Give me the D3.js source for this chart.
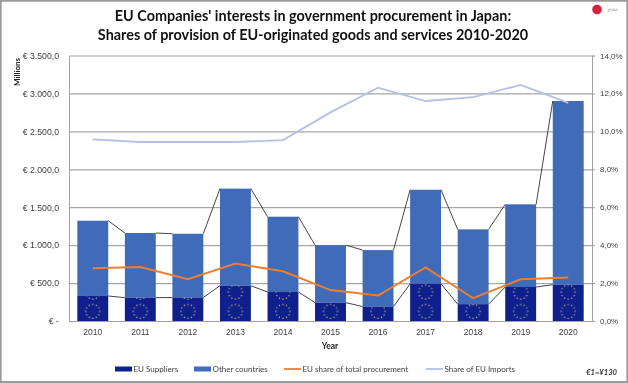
<!DOCTYPE html>
<html>
<head>
<meta charset="utf-8">
<script src="https://cdn.jsdelivr.net/npm/d3@7"></script>
<style>
    html, body { margin: 0; padding: 0; background: #fff; }
    svg { display: block; font-family: Lato, sans-serif; color: #333; filter: blur(0.35px); }
    .axis text { font-size: 8.5px; fill: #404040; }
    .axis path, .axis line { stroke: #a0a0a0; }
    .axis.left text { font-size: 8.7px; }
    .axis.right text { font-size: 8px; }
    .grid line { stroke: #a6a6a6; stroke-width: 1.2; }
    .grid path { display: none; }
</style>
</head>
<body>
<div id="chart"></div>
<script>
const years = ['2010', '2011', '2012', '2013', '2014', '2015', '2016', '2017', '2018', '2019', '2020'];
const euSuppliers = [330, 307, 310, 465, 382, 242, 190, 490, 222, 448, 478];
const otherCountries = [992, 853, 840, 1280, 993, 758, 745, 1240, 986, 1090, 2422];
const euShare = [2.78, 2.85, 2.2, 3.03, 2.62, 1.63, 1.34, 2.83, 1.2, 2.2, 2.29];
const euImports = [9.58, 9.44, 9.44, 9.44, 9.54, 11.0, 12.3, 11.6, 11.8, 12.45, 11.5];
const euroTicks = [0, 500, 1000, 1500, 2000, 2500, 3000, 3500];
const shareTicks = [0, 2, 4, 6, 8, 10, 12, 14];
const titleLines = ["EU Companies' interests in government procurement in Japan:", 'Shares of provision of EU-originated goods and services 2010-2020'];

const width = 628;
const height = 383;
const margin = { top: 55.5, right: 36, bottom: 62, left: 69 };
const w = width - margin.left - margin.right;
const h = height - margin.top - margin.bottom;

const colors = { eu: '#0f1f8c', other: '#3f6bb8', share: '#ed7d31', imports: '#b4c0e4', link: '#444' };

const svg = d3.select('#chart')
    .append('svg')
    .attr('width', width)
    .attr('height', height);

// screenshot frame
svg.append('path')
    .attr('d', `M0.75,${height - 1}V0.75H${width - 0.75}V${height - 1}Z`)
    .attr('fill', 'none')
    .attr('stroke', '#9a9a9a')
    .attr('stroke-width', 1.8);

const g = svg.append('g')
    .attr('transform', `translate(${margin.left}, ${margin.top})`);

const xScale = d3.scaleBand()
    .domain(years)
    .range([0, w])
    .paddingInner(0.35)
    .paddingOuter(0.175);
const yScale = d3.scaleLinear().domain([0, 3500]).range([h, 0]);
const shareScale = d3.scaleLinear().domain([0, 14]).range([h, 0]);
const cx = (d) => xScale(d) + xScale.bandwidth() / 2;

// flag pattern, one ring of stars per tile (coordinates of the plot group)
const tileH = yScale(0) - yScale(254);
const defs = svg.append('defs');
const pattern = defs.append('pattern')
    .attr('id', 'flag')
    .attr('patternUnits', 'userSpaceOnUse')
    .attr('width', xScale.step())
    .attr('height', tileH)
    .attr('x', cx(years[0]) - xScale.step() / 2)
    .attr('y', h - tileH);
pattern.append('rect')
    .attr('width', xScale.step())
    .attr('height', tileH)
    .attr('fill', colors.eu);
pattern.selectAll('circle')
    .data(d3.range(12))
    .enter()
    .append('circle')
    .attr('cx', (d) => xScale.step() / 2 + 7 * Math.cos(d * Math.PI / 6))
    .attr('cy', (d) => tileH / 2 + 7 * Math.sin(d * Math.PI / 6))
    .attr('r', 0.65)
    .attr('fill', '#d8d28c');

// gridlines
g.append('g')
    .attr('class', 'grid')
    .call(d3.axisLeft(yScale).tickValues(euroTicks).tickSize(-w).tickFormat(''));

// axes
const locale = d3.formatLocale({ decimal: ',', thousands: '.', grouping: [3], currency: ['€ ', ''] });
const euroFormat = locale.format('$,.1f');
const leftAxis = d3.axisLeft(yScale)
    .tickValues(euroTicks)
    .tickSize(0)
    .tickPadding(10)
    .tickFormat((d) => d === 0 ? '€ -' : euroFormat(d));
g.append('g').attr('class', 'axis left').call(leftAxis);

const rightAxis = d3.axisRight(shareScale)
    .tickValues(shareTicks)
    .tickSize(3)
    .tickPadding(5)
    .tickFormat((d) => d.toFixed(1).replace('.', ',') + '%');
g.append('g')
    .attr('class', 'axis right')
    .attr('transform', `translate(${w}, 0)`)
    .call(rightAxis);

const bottomAxis = d3.axisBottom(xScale).tickSize(0).tickPadding(8);
g.append('g')
    .attr('class', 'axis')
    .attr('transform', `translate(0, ${h})`)
    .call(bottomAxis);

// stacked bars
const stacked = d3.stack().keys(['eu', 'other'])(years.map((d, i) => {
    return { year: d, eu: euSuppliers[i], other: otherCountries[i] };
}));

g.selectAll('.bar-other')
    .data(stacked[1])
    .enter()
    .append('rect')
    .attr('class', 'bar-other')
    .attr('x', (d) => xScale(d.data.year))
    .attr('width', xScale.bandwidth())
    .attr('y', (d) => yScale(d[1]))
    .attr('height', (d) => yScale(d[0]) - yScale(d[1]))
    .attr('fill', colors.other);

g.selectAll('.bar-eu')
    .data(stacked[0])
    .enter()
    .append('rect')
    .attr('class', 'bar-eu')
    .attr('x', (d) => xScale(d.data.year))
    .attr('width', xScale.bandwidth())
    .attr('y', (d) => yScale(d[1]))
    .attr('height', (d) => yScale(d[0]) - yScale(d[1]))
    .attr('fill', 'url(#flag)');

// series lines between the bars
stacked.forEach((layer) => {
    g.append('g')
        .selectAll('line')
        .data(layer.slice(1))
        .enter()
        .append('line')
        .attr('x1', (d, i) => xScale(layer[i].data.year) + xScale.bandwidth())
        .attr('y1', (d, i) => yScale(layer[i][1]))
        .attr('x2', (d) => xScale(d.data.year))
        .attr('y2', (d) => yScale(d[1]))
        .attr('stroke', colors.link)
        .attr('stroke-width', 1);
});

// lines on the share axis
const shareLine = d3.line()
    .x((d, i) => cx(years[i]))
    .y((d) => shareScale(d));

g.append('path')
    .datum(euImports)
    .attr('d', shareLine)
    .attr('fill', 'none')
    .attr('stroke', colors.imports)
    .attr('stroke-width', 1.8);

g.append('path')
    .datum(euShare)
    .attr('d', shareLine)
    .attr('fill', 'none')
    .attr('stroke', colors.share)
    .attr('stroke-width', 2);

// title
svg.append('text')
    .attr('text-anchor', 'middle')
    .attr('font-size', 14.4)
    .attr('font-weight', 700)
    .attr('fill', '#111')
    .selectAll('tspan')
    .data(titleLines)
    .enter()
    .append('tspan')
    .attr('x', 313)
    .attr('y', (d, i) => 21 + i * 19)
    .text((d) => d);

// axis titles
svg.append('text')
    .attr('transform', 'translate(20, 72) rotate(-90)')
    .attr('text-anchor', 'middle')
    .attr('font-size', 8)
    .attr('font-weight', 700)
    .attr('fill', '#222')
    .text('Millions');

svg.append('text')
    .attr('x', 330)
    .attr('y', 349)
    .attr('text-anchor', 'middle')
    .attr('font-size', 8.5)
    .attr('font-weight', 700)
    .attr('fill', '#222')
    .text('Year');

// legend
const legendItems = [
    { label: 'EU Suppliers', x: 115, color: colors.eu, bar: true },
    { label: 'Other countries', x: 194, color: colors.other, bar: true },
    { label: 'EU share of total procurement', x: 284, color: colors.share, bar: false },
    { label: 'Share of EU Imports', x: 426, color: colors.imports, bar: false }
];
const legend = svg.append('g').attr('font-size', 8).attr('fill', '#404040');
legendItems.forEach((d) => {
    if (d.bar) {
        legend.append('rect')
            .attr('x', d.x)
            .attr('y', 366.5)
            .attr('width', 17)
            .attr('height', 5)
            .attr('fill', d.color);
    } else {
        legend.append('line')
            .attr('x1', d.x)
            .attr('x2', d.x + 17)
            .attr('y1', 369)
            .attr('y2', 369)
            .attr('stroke', d.color)
            .attr('stroke-width', 1.8);
    }
    legend.append('text')
        .attr('x', d.x + 18.5)
        .attr('y', 372)
        .text(d.label);
});

svg.append('text')
    .attr('x', 617)
    .attr('y', 374.5)
    .attr('text-anchor', 'end')
    .attr('font-size', 7.6)
    .attr('font-style', 'italic')
    .attr('font-weight', 700)
    .attr('fill', '#333')
    .text('€1=¥130');

// small logo, top right
svg.append('circle')
    .attr('cx', 597)
    .attr('cy', 9.5)
    .attr('r', 4.8)
    .attr('fill', '#d8203f');
svg.append('text')
    .attr('x', 607.5)
    .attr('y', 11)
    .attr('font-size', 4)
    .attr('fill', '#999')
    .text('global');
</script>
</body>
</html>
